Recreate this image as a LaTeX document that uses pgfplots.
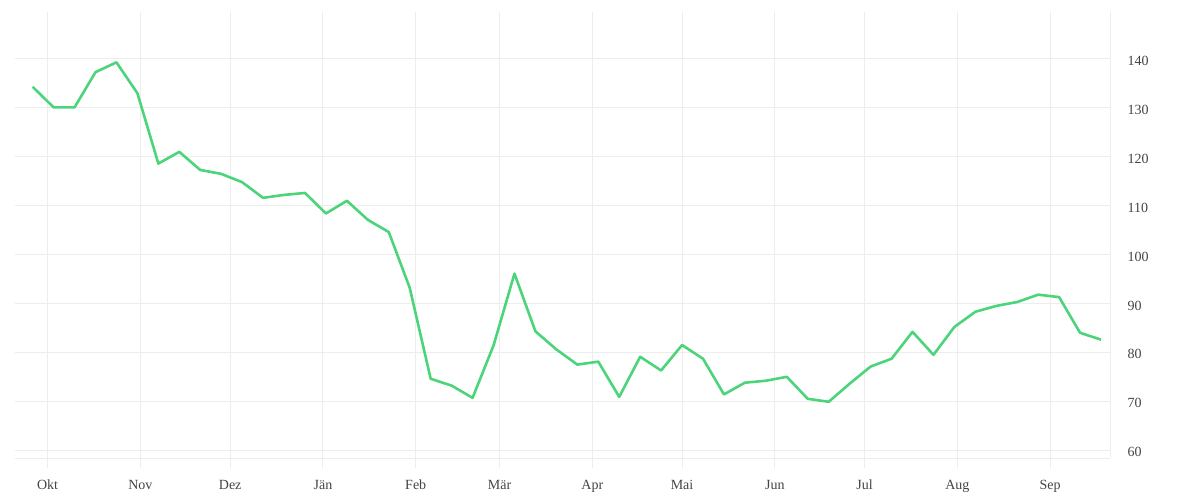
\documentclass[border=0pt]{standalone}
\usepackage{fontspec}
\setmainfont{Liberation Serif}
\usepackage{pgfplots}
\pgfplotsset{compat=1.18}
\definecolor{linegreen}{HTML}{4CD47B}
\definecolor{gridgray}{HTML}{EDEDED}
\definecolor{labelgray}{HTML}{444444}

% weekly values, x = days since 1 Oct
\pgfplotstableread{
day val
-5 134.3
2 130.1
9 130.1
16 137.3
23 139.3
30 133.0
37 118.6
44 121.0
51 117.3
58 116.5
65 114.8
72 111.6
79 112.2
86 112.6
93 108.4
100 111.0
107 107.1
114 104.6
121 93.2
128 74.6
135 73.2
142 70.7
149 81.4
156 96.1
163 84.3
170 80.6
177 77.5
184 78.1
191 70.9
198 79.1
205 76.3
212 81.5
219 78.7
226 71.4
233 73.8
240 74.2
247 75.0
254 70.5
261 69.9
268 73.6
275 77.1
282 78.7
289 84.2
296 79.5
303 85.2
310 88.3
317 89.5
324 90.3
331 91.8
338 91.3
345 84.0
352 82.6
}\prices

\begin{document}
\begin{tikzpicture}
\useasboundingbox (-7.5pt,-21pt) rectangle (592.5pt,229pt);
\begin{axis}[
  at={(0,0)}, anchor=south west,
  scale only axis,
  width=547.5pt, height=223pt,
  xmin=-10.9, xmax=355, ymin=58.4, ymax=149.6,
  axis x line*=bottom, axis y line*=right,
  axis line style={gridgray, line width=0.5pt},
  xtick={0,31,61,92,123,151,182,212,243,273,304,335},
  xticklabels={Okt,Nov,Dez,Jän,Feb,Mär,Apr,Mai,Jun,Jul,Aug,Sep},
  ytick={60,70,...,140},
  grid=major,
  grid style={gridgray, line width=0.5pt},
  xtick align=outside,
  major tick length=5pt,
  xtick style={gridgray, line width=0.5pt},
  ytick style={draw=none},
  ticklabel style={font=\fontsize{7}{8}\selectfont, text=labelgray},
  xticklabel style={yshift=-2.2pt, text height=5pt, text depth=1.5pt},
  yticklabel style={anchor=west, xshift=5.3pt, yshift=-1pt},
  /pgf/number format/assume math mode=true,
]
\addplot[linegreen, line width=1.3pt, line join=round] table[x=day, y=val] {\prices};
\end{axis}
\end{tikzpicture}
\end{document}
